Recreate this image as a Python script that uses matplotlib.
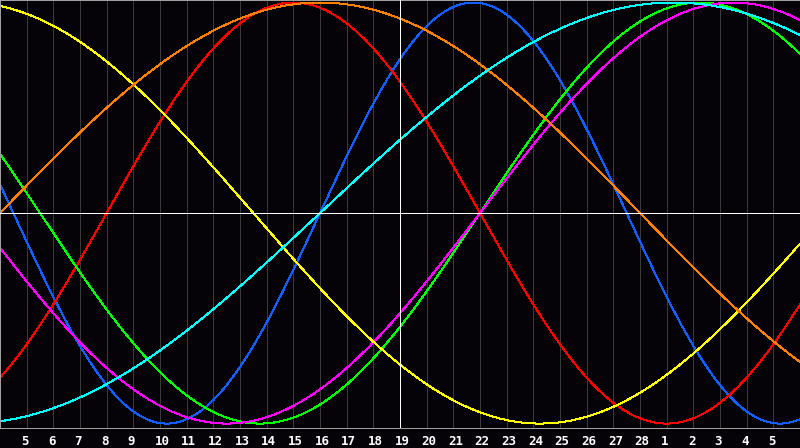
import numpy as np
import matplotlib
matplotlib.use("Agg")
import matplotlib.pyplot as plt
from matplotlib.transforms import ScaledTranslation

# ciclos (dias) e dia em que cada curva cruza o zero subindo
periods = [23, 28, 33, 38, 43, 48, 53]
zero_up_day = [12, 4, 18, 18, -12, 0, 12]
colors = ["#1060ff", "#ff0000", "#00ff00", "#ff00ff", "#ffff00", "#ff8000", "#00ffff"]

# dias mostrados no eixo
day_labels = [str(d) for d in range(5, 29)] + [str(d) for d in range(1, 6)]
n_days = 30
center_day = 15

px = 72 / 100  # 1 pixel em pontos

fig = plt.figure(figsize=(8, 4.48), dpi=100, facecolor="#050308")
ax = fig.add_axes([0, 20 / 448, 1, 428 / 448])
ax.set_facecolor("#050308")

t = np.linspace(0, n_days, 1600)
for p, z, c in zip(periods, zero_up_day, colors):
    ax.plot(t, np.sin(2 * np.pi * (t - z) / p), color=c, lw=px, antialiased=False)

for k in range(1, n_days):
    if k != center_day:
        ax.axvline(k, color="#3a3a3a", lw=px, zorder=0, antialiased=False)
ax.axvline(center_day, color="white", lw=px, zorder=3, antialiased=False)
ax.axhline(0, color="white", lw=px, zorder=3, antialiased=False)

ax.set_xlim(0, n_days)
ax.set_ylim(-1.021, 1.012)
ax.set_yticks([])
ax.set_xticks(range(1, n_days))
ax.set_xticklabels(day_labels, color="white", fontsize=9, fontweight="bold",
                   family="DejaVu Sans Mono")
ax.tick_params(axis="x", length=0, pad=5)
off = ScaledTranslation(-5.5 / 100, 0, fig.dpi_scale_trans)
for lab in ax.get_xticklabels():
    lab.set_ha("left")
    lab.set_transform(lab.get_transform() + off)

for s in ax.spines.values():
    s.set_color("#a0a0a0")
    s.set_linewidth(px)

fig.savefig("out.png", dpi=100, facecolor=fig.get_facecolor())
